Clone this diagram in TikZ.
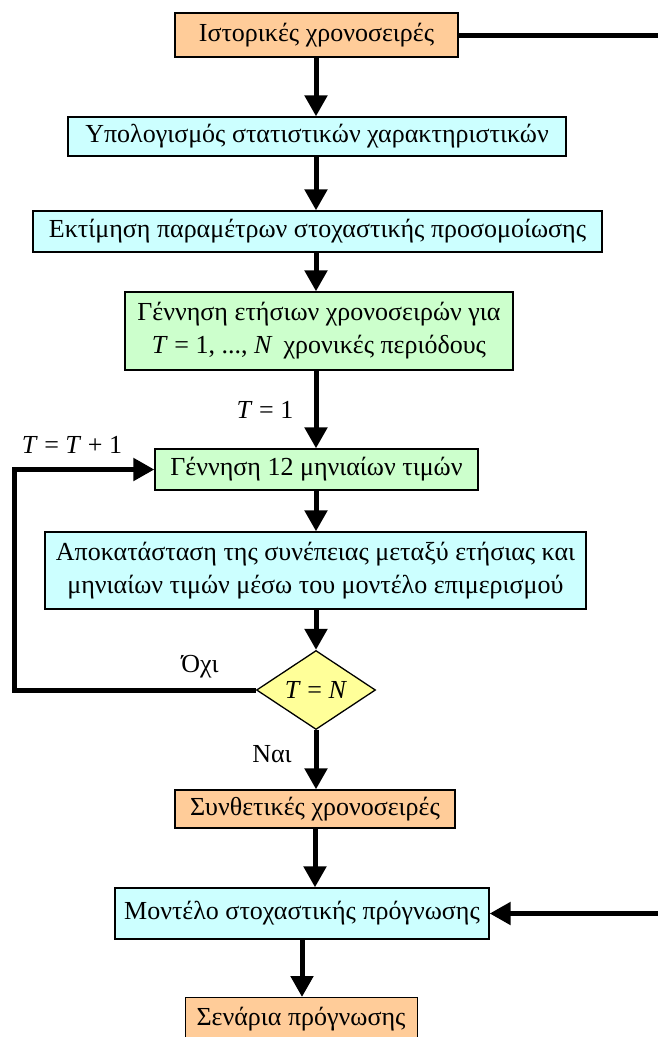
\documentclass[tikz,border=0pt]{standalone}
\usepackage{fontspec}
\setmainfont{Liberation Serif}
\usetikzlibrary{arrows.meta,shapes.geometric}
\definecolor{cOrange}{HTML}{FFCC99}
\definecolor{cCyan}{HTML}{CCFFFF}
\definecolor{cGreen}{HTML}{CCFFCC}
\definecolor{cYellow}{HTML}{FFFF99}
\tikzset{
  box/.style={draw=black, line width=1.3pt, inner sep=0pt, align=center, font=\fontsize{26}{33}\selectfont},
  orangebox/.style={box, fill=cOrange},
  cyanbox/.style={box, fill=cCyan},
  greenbox/.style={box, fill=cGreen},
  decision/.style={diamond, aspect=1.5, draw=black, line width=1.3pt, fill=cYellow, inner sep=0pt, font=\fontsize{26}{33}\selectfont},
  flow/.style={line width=5pt, -{Triangle[length=21pt,width=22pt]}},
  lbl/.style={font=\fontsize{26}{33}\selectfont, inner sep=0pt}
}
\begin{document}
\begin{tikzpicture}[x=1pt,y=-1pt]
\useasboundingbox (0,0) rectangle (658,1037);
\clip (0,0) rectangle (658,1037);
\fill[white] (0,0) rectangle (658,1037);
\node[orangebox, minimum width=283pt, minimum height=44pt] (hist) at (316.5,35) {Ιστορικές χρονοσειρές};
\node[cyanbox, minimum width=498pt, minimum height=39pt] (stat) at (317,136.5) {Υπολογισμός στατιστικών χαρακτηριστικών};
\node[cyanbox, minimum width=569pt, minimum height=41pt] (param) at (317.5,231.5) {Εκτίμηση παραμέτρων στοχαστικής προσομοίωσης};
\node[greenbox, minimum width=388pt, minimum height=78pt] (annual) at (319,331) {Γέννηση ετήσιων χρονοσειρών για\\ \textit{T} = 1, ..., \textit{N}\, χρονικές περιόδους};
\node[greenbox, minimum width=323pt, minimum height=41pt] (monthly) at (316.5,469.5) {Γέννηση 12 μηνιαίων τιμών};
\node[cyanbox, minimum width=541pt, minimum height=77pt] (disagg) at (315.5,570.5) {Αποκατάσταση της συνέπειας μεταξύ ετήσιας και\\ μηνιαίων τιμών μέσω του μοντέλο επιμερισμού};
\node[decision, minimum width=119pt, minimum height=79pt] (test) at (316,690) {\textit{T} = \textit{N}};
\node[orangebox, minimum width=280pt, minimum height=38pt] (synth) at (315,809) {Συνθετικές χρονοσειρές};
\node[cyanbox, minimum width=374pt, minimum height=51pt] (model) at (302,913.5) {Μοντέλο στοχαστικής πρόγνωσης};
\node[orangebox, minimum width=232pt, minimum height=50pt, anchor=north west] (scen) at (185,997) {};
\node[lbl] at (301,1019) {Σενάρια πρόγνωσης};

\draw[flow] (hist.south -| 316,0) -- (stat.north -| 316,0);
\draw[flow] (stat.south -| 316,0) -- (param.north -| 316,0);
\draw[flow] (param.south -| 316,0) -- (annual.north -| 316,0);
\draw[flow] (annual.south -| 316,0) -- (monthly.north -| 316,0) node[lbl, pos=0.5, xshift=-51pt] {\textit{T} = 1};
\draw[flow] (monthly.south -| 316,0) -- (disagg.north -| 316,0);
\draw[flow] (disagg.south -| 316,0) -- (test.north);
\draw[flow] (test.south) -- (synth.north -| 316,0) node[lbl, pos=0.4, xshift=-44pt] {Ναι};
\draw[flow] (synth.south -| 315,0) -- (model.north -| 315,0);
\draw[flow] (model.south) -- (scen.north -| model.south);
\draw[flow] (test.west) -- (14,690) -- (14,469.5) -- (monthly.west);
\node[lbl] at (200,667) {Όχι};
\node[lbl] at (72,445) {\textit{T} = \textit{T} + 1};
\draw[flow] (hist.east) -- (700,35) -- (700,913.5) -- (model.east);
\end{tikzpicture}
\end{document}
